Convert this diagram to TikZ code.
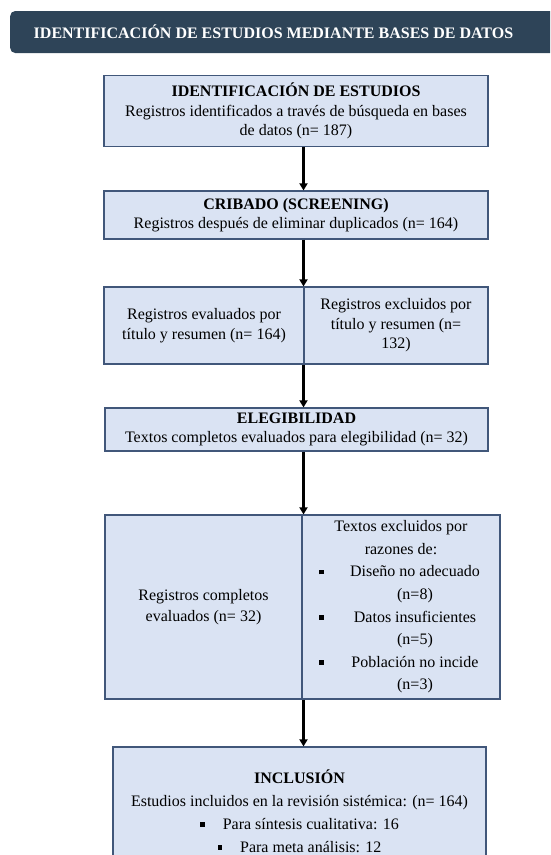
\documentclass[tikz,border=0pt]{standalone}
\usepackage{fontspec}
\setmainfont{Liberation Serif}
\usetikzlibrary{arrows.meta}

\definecolor{fondocaja}{HTML}{DAE3F3}
\definecolor{bordecaja}{HTML}{41577A}
\definecolor{fondotitulo}{HTML}{2E4458}

% small square bullet
\newcommand{\bul}{\raisebox{2.6pt}{\rule{4.6pt}{4.6pt}}}
% bullet item (first line) and its second line, centred under the text
\newcommand{\motivo}[1]{\makebox[164pt][l]{\makebox[28pt][l]{\bul}\makebox[136pt]{#1}}}
\newcommand{\cifra}[1]{\makebox[164pt][r]{\makebox[136pt]{#1}}}

\tikzset{
    caja/.style={draw=bordecaja, line width=1.2pt, fill=fondocaja, align=center,
        inner sep=0pt, font=\fontsize{16}{19.5}\selectfont},
    flecha/.style={-{Triangle[width=8pt,length=7pt]}, line width=2.4pt, black},
}

\begin{document}
\begin{tikzpicture}[x=1pt, y=-1pt]
    \useasboundingbox (0,0) rectangle (550,855);
    \clip (0,0) rectangle (550,855);

    % Title bar
    \node[fill=fondotitulo, rounded corners=5pt, minimum width=570pt, minimum height=42pt,
        anchor=west, inner sep=0pt] (barra) at (10,32) {};
    \node[text=white, font=\fontsize{16}{19}\selectfont\bfseries] (titulo) at (273.5,32)
        {IDENTIFICACIÓN DE ESTUDIOS MEDIANTE BASES DE DATOS};

    % Boxes
    \node[caja, minimum width=384pt, minimum height=71pt] (identificacion) at (296,111)
        {\textbf{IDENTIFICACIÓN DE ESTUDIOS}\\Registros identificados a través de búsqueda en bases\\de datos (n= 187)};
    \node[caja, minimum width=384pt, minimum height=48pt] (cribado) at (296,215)
        {\textbf{CRIBADO (SCREENING)}\\Registros después de eliminar duplicados (n= 164)};
    \node[caja, minimum width=200pt, minimum height=77pt] (evaluados) at (204,325.5)
        {Registros evaluados por\\título y resumen (n= 164)};
    \node[caja, minimum width=184pt, minimum height=77pt] (excluidos) at (396,325.5)
        {Registros excluidos por\\título y resumen (n=\\132)};
    \node[caja, minimum width=383pt, minimum height=43pt] (elegibilidad) at (296.5,429.5)
        {\textbf{ELEGIBILIDAD}\\Textos completos evaluados para elegibilidad (n= 32)};
    \node[caja, minimum width=197pt, minimum height=184pt, font=\fontsize{16}{20.5}\selectfont] (completos) at (203.5,607)
        {Registros completos\\evaluados (n= 32)};
    \node[caja, minimum width=198pt, minimum height=184pt, font=\fontsize{16}{22.6}\selectfont] (razones) at (401,607)
        {Textos excluidos por\\razones de:\\
         \motivo{Diseño no adecuado}\\ \cifra{(n=8)}\\
         \motivo{Datos insuficientes}\\ \cifra{(n=5)}\\
         \motivo{Población no incide}\\ \cifra{(n=3)}};
    \node[caja, minimum width=373pt, minimum height=128pt, font=\fontsize{16}{23}\selectfont] (inclusion) at (299.5,811)
        {\textbf{INCLUSIÓN}\\Estudios incluidos en la revisión sistémica: (n= 164)\\
         \bul\hspace{18pt}Para síntesis cualitativa: 16\\
         \bul\hspace{18pt}Para meta análisis: 12};

    % Arrows
    \coordinate (eje) at (303.5,0);
    \draw[flecha] (identificacion.south -| eje) -- (cribado.north -| eje);
    \draw[flecha] (cribado.south -| eje) -- (evaluados.north -| eje);
    \draw[flecha] (evaluados.south -| eje) -- (elegibilidad.north -| eje);
    \draw[flecha] (elegibilidad.south -| eje) -- (completos.north -| eje);
    \draw[flecha] (completos.south -| eje) -- (inclusion.north -| eje);
\end{tikzpicture}
\end{document}
